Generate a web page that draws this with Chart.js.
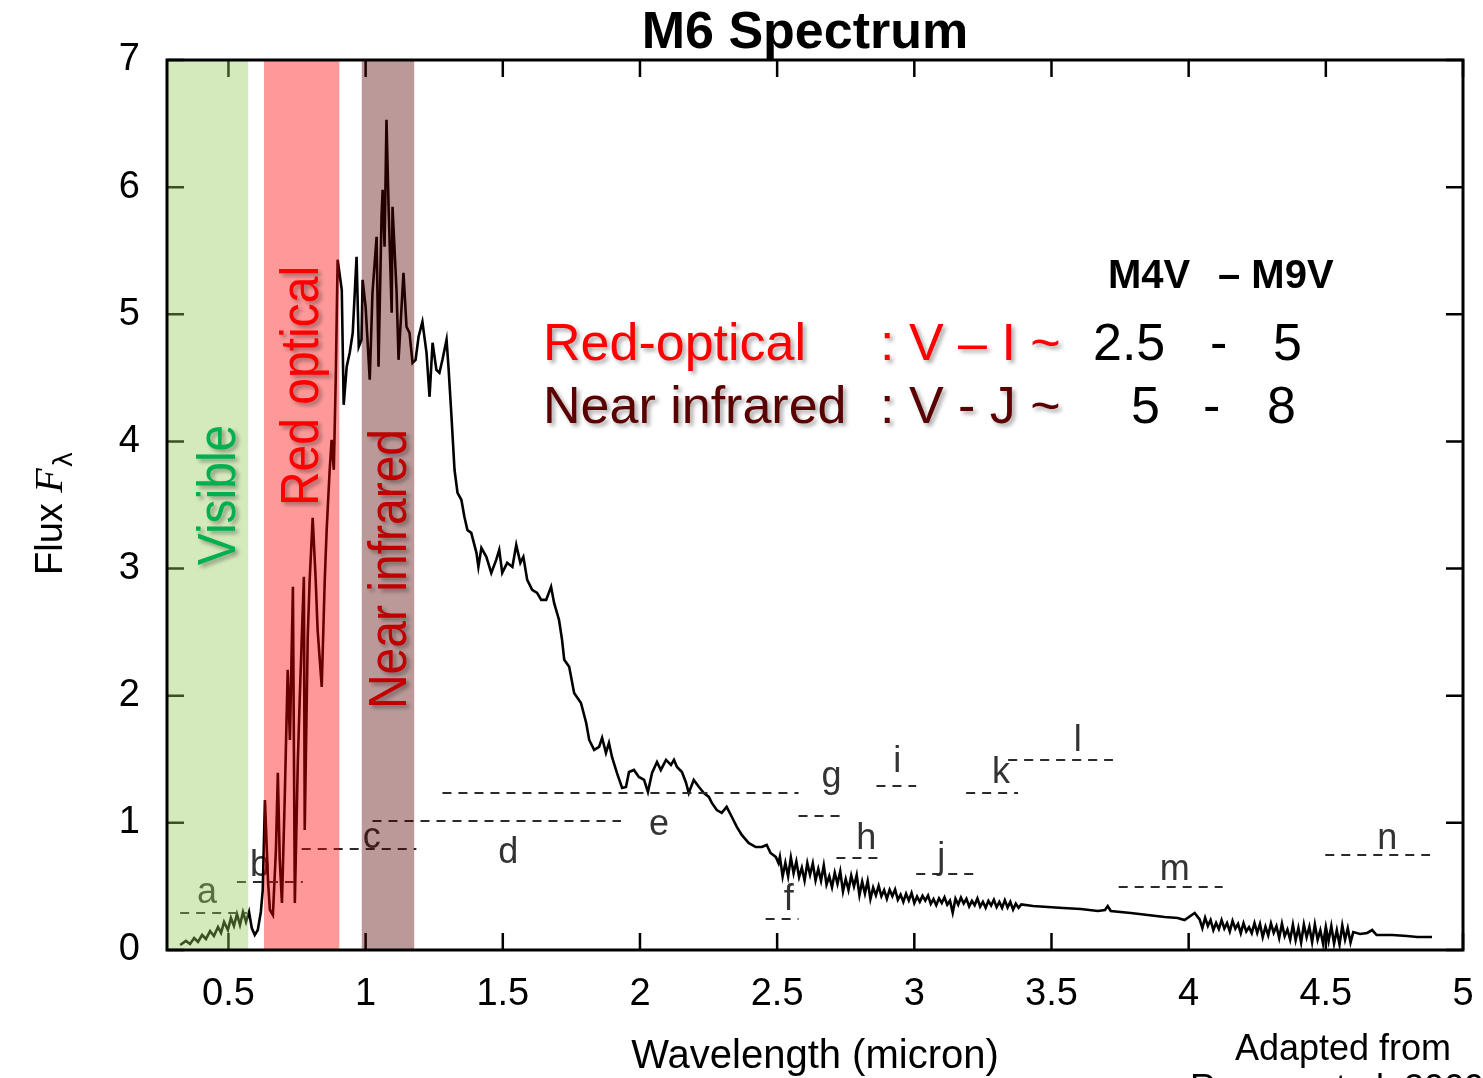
<!DOCTYPE html>
<html lang="en">
<head>
<meta charset="UTF-8">
<title>M6 Spectrum</title>
<style>
  html, body { margin: 0; padding: 0; background: #fff; }
  canvas { display: block; }
</style>
</head>
<body>
<canvas id="spectrumChart" width="1483" height="1078"></canvas>
<script src="https://cdn.jsdelivr.net/npm/chart.js@4.4.1/dist/chart.umd.min.js"></script>
<script>
// axis range and ticks
const xMin = 0.276, xMax = 5.0;
const xTickValues = [0.5, 1, 1.5, 2, 2.5, 3, 3.5, 4, 4.5, 5];
const yTickValues = [0, 1, 2, 3, 4, 5, 6, 7];

// M6 spectrum (micron, flux)
const wavelength = [
  0.324,0.345,0.360,0.375,0.389,0.404,0.418,0.433,0.447,0.462,
  0.473,0.484,0.498,0.509,0.520,0.531,0.542,0.553,0.564,0.575,
  0.585,0.596,0.607,0.618,0.625,0.633,0.644,0.651,0.662,0.673,
  0.680,0.687,0.695,0.705,0.716,0.724,0.735,0.742,0.753,0.760,
  0.767,0.775,0.778,0.789,0.796,0.807,0.818,0.825,0.840,0.851,
  0.858,0.869,0.876,0.884,0.891,0.898,0.913,0.920,0.931,0.942,
  0.953,0.967,0.975,0.985,0.989,1.000,1.015,1.025,1.040,1.047,
  1.058,1.062,1.069,1.076,1.084,1.095,1.098,1.113,1.120,1.131,
  1.138,1.149,1.160,1.171,1.182,1.193,1.207,1.222,1.233,1.244,
  1.258,1.269,1.280,1.295,1.302,1.313,1.324,1.335,1.349,1.360,
  1.371,1.385,1.404,1.411,1.422,1.440,1.458,1.476,1.487,1.498,
  1.516,1.535,1.549,1.564,1.575,1.589,1.607,1.625,1.640,1.658,
  1.676,1.687,1.705,1.716,1.724,1.742,1.760,1.785,1.804,1.815,
  1.833,1.851,1.862,1.876,1.887,1.898,1.916,1.935,1.949,1.960,
  1.978,1.996,2.015,2.029,2.044,2.062,2.076,2.095,2.113,2.124,
  2.135,2.153,2.167,2.178,2.196,2.215,2.233,2.251,2.262,2.280,
  2.298,2.316,2.335,2.353,2.371,2.396,2.422,2.444,2.462,2.476,
  2.495,2.505,
  2.51,2.52,2.53,2.54,2.55,2.56,2.57,2.58,2.59,2.60,
  2.61,2.62,2.63,2.64,2.65,2.66,2.67,2.68,2.69,2.70,
  2.71,2.72,2.73,2.74,2.75,2.76,2.77,2.78,2.79,2.80,
  2.81,2.82,2.83,2.84,2.85,2.86,2.87,2.88,2.89,2.90,
  2.91,2.92,2.93,2.94,2.95,2.96,2.97,2.98,2.99,3.00,
  3.01,3.02,3.03,3.04,3.05,3.06,3.07,3.08,3.09,3.10,
  3.11,3.12,3.13,3.14,3.15,3.16,3.17,3.18,3.19,3.20,
  3.21,3.22,3.23,3.24,3.25,3.26,3.27,3.28,3.29,3.30,
  3.31,3.32,3.33,3.34,3.35,3.36,3.37,3.38,3.39,
  3.433,3.487,3.542,3.607,3.669,3.695,3.705,3.716,3.789,3.851,
  3.913,3.960,3.985,4.022,
  4.04,4.05,4.06,4.07,4.08,4.09,4.10,4.11,4.12,4.13,
  4.14,4.15,4.16,4.17,4.18,4.19,4.20,4.21,4.22,4.23,
  4.24,4.25,4.26,4.27,4.28,4.29,4.30,4.31,4.32,4.33,
  4.34,4.35,4.36,4.37,4.38,4.39,4.40,4.41,4.42,4.43,
  4.44,4.45,4.46,4.47,4.48,4.49,4.50,4.51,4.52,4.53,
  4.54,4.55,4.56,4.57,4.58,4.59,4.60,
  4.625,4.651,4.669,4.685,4.742,4.796,4.833,4.887
];
const flux = [
  0.039,0.071,0.047,0.094,0.063,0.118,0.087,0.149,0.110,0.181,
  0.134,0.220,0.157,0.252,0.189,0.283,0.197,0.299,0.220,0.299,
  0.173,0.118,0.157,0.299,0.472,1.180,0.551,0.315,0.275,0.787,
  1.393,0.708,0.370,1.180,2.203,1.652,2.856,0.370,1.495,1.991,
  2.439,2.935,0.944,2.463,2.911,3.399,2.911,2.518,2.069,2.911,
  3.304,3.777,4.013,3.777,4.485,5.429,5.193,4.288,4.587,4.697,
  4.854,5.452,4.744,4.799,5.271,5.059,4.485,5.169,5.610,4.587,
  5.767,5.980,5.531,6.530,5.822,5.012,5.846,5.169,4.642,5.059,
  5.327,4.902,4.854,4.618,4.642,4.823,4.941,4.697,4.351,4.776,
  4.563,4.540,4.642,4.799,4.587,4.194,3.777,3.596,3.541,3.407,
  3.304,3.281,3.124,3.013,3.163,3.092,2.966,3.068,3.147,2.966,
  3.045,3.013,3.186,3.045,3.092,2.911,2.832,2.809,2.754,2.754,
  2.856,2.730,2.596,2.439,2.282,2.227,2.022,1.943,1.786,1.652,
  1.574,1.597,1.668,1.550,1.629,1.518,1.393,1.275,1.282,1.400,
  1.416,1.361,1.338,1.243,1.393,1.479,1.416,1.495,1.456,1.495,
  1.440,1.400,1.322,1.235,1.338,1.282,1.235,1.204,1.157,1.101,
  1.078,1.125,1.046,0.968,0.905,0.842,0.810,0.810,0.826,0.763,
  0.732,0.684,
  0.733,0.578,0.686,0.579,0.727,0.604,0.696,0.573,0.647,0.546,
  0.684,0.591,0.681,0.548,0.638,0.544,0.665,0.515,0.580,0.494,
  0.607,0.521,0.619,0.461,0.558,0.472,0.586,0.500,0.589,0.431,
  0.537,0.444,0.542,0.401,0.491,0.430,0.505,0.423,0.471,0.403,
  0.474,0.424,0.476,0.395,0.436,0.379,0.443,0.390,0.449,0.370,
  0.420,0.379,0.426,0.389,0.429,0.363,0.400,0.352,0.406,0.370,
  0.415,0.357,0.388,0.293,0.403,0.357,0.412,0.366,0.403,0.342,
  0.386,0.353,0.405,0.341,0.379,0.332,0.386,0.350,0.395,0.337,
  0.378,0.331,0.392,0.335,0.379,0.318,0.365,0.332,0.359,
  0.346,0.338,0.330,0.323,0.307,0.315,0.346,0.307,0.291,0.275,
  0.260,0.252,0.236,0.291,
  0.241,0.172,0.254,0.189,0.236,0.157,0.213,0.165,0.235,0.169,
  0.212,0.146,0.229,0.168,0.206,0.132,0.211,0.146,0.180,0.133,
  0.212,0.135,0.205,0.101,0.183,0.115,0.209,0.135,0.187,0.095,
  0.207,0.109,0.161,0.081,0.199,0.077,0.173,0.059,0.201,0.101,
  0.183,0.062,0.202,0.081,0.155,0.048,0.182,0.069,0.188,0.051,
  0.156,0.043,0.193,0.081,0.171,0.058,0.141,
  0.126,0.134,0.157,0.118,0.118,0.110,0.102,0.102
];

// shaded wavelength bands
const bandNames = ['Visible', 'Red optical', 'Near infrared'];
const bandStart = [0.276, 0.629, 0.985];
const bandEnd = [0.573, 0.905, 1.178];

// photometric filter marks a..n
const filterNames = ['a','b','c','d','e','f','g','h','i','j','k','l','m','n'];
const filterStart = [0.324, 0.531, 0.767, 1.025, 1.280, 2.458, 2.578, 2.716, 2.862, 3.007, 3.189, 3.342, 3.745, 4.498];
const filterEnd   = [0.567, 0.771, 1.185, 1.931, 2.578, 2.578, 2.735, 2.887, 3.007, 3.218, 3.378, 3.724, 4.124, 4.880];
const filterLevel = [0.291, 0.535, 0.795, 1.015, 1.235, 0.244, 1.054, 0.724, 1.290, 0.598, 1.235, 1.495, 0.496, 0.747];
const labelX = [0.422, 0.615, 1.022, 1.520, 2.069, 2.542, 2.698, 2.825, 2.938, 3.098, 3.316, 3.596, 3.949, 4.724];
const labelY = [0.45, 0.66, 0.88, 0.76, 0.98, 0.39, 1.36, 0.87, 1.48, 0.72, 1.39, 1.64, 0.63, 0.87];

const FONT = '"Liberation Sans", Arial, Helvetica, sans-serif';
const bandFill = ['rgba(150,202,87,0.4)', 'rgba(255,0,0,0.4)', 'rgba(88,0,0,0.4)'];

function withShadow(ctx) {
    ctx.shadowColor = 'rgba(0,0,0,0.35)';
    ctx.shadowOffsetX = 3;
    ctx.shadowOffsetY = 3;
    ctx.shadowBlur = 4;
}

const datasets = [];

// bands go on top so the line shows through darkened
bandNames.forEach((name, i) => {
    datasets.push({
        label: name,
        data: [{ x: bandStart[i], y: 7 }, { x: bandEnd[i], y: 7 }],
        borderWidth: 0,
        pointRadius: 0,
        fill: 'origin',
        backgroundColor: bandFill[i],
        order: 0
    });
});

filterNames.forEach((name, i) => {
    datasets.push({
        label: 'filter ' + name,
        data: [{ x: filterStart[i], y: filterLevel[i] }, { x: filterEnd[i], y: filterLevel[i] }],
        borderColor: '#2a2a2a',
        borderWidth: 2,
        borderDash: [9, 7],
        pointRadius: 0,
        fill: false,
        order: 2
    });
});

datasets.push({
    label: 'M6',
    data: wavelength.map((w, i) => ({ x: w, y: flux[i] })),
    borderColor: '#000',
    borderWidth: 2.6,
    pointRadius: 0,
    tension: 0,
    fill: false,
    order: 3
});

const decorations = {
    id: 'decorations',
    beforeDatasetsDraw(chart) {
        const { ctx, chartArea: a, scales: { x, y } } = chart;
        ctx.save();
        // inward tick marks on all four sides
        ctx.strokeStyle = '#000';
        ctx.lineWidth = 2.5;
        ctx.beginPath();
        xTickValues.forEach(v => {
            const px = x.getPixelForValue(v);
            ctx.moveTo(px, a.bottom); ctx.lineTo(px, a.bottom - 17);
            ctx.moveTo(px, a.top); ctx.lineTo(px, a.top + 17);
        });
        yTickValues.forEach(v => {
            const py = y.getPixelForValue(v);
            ctx.moveTo(a.left, py); ctx.lineTo(a.left + 17, py);
            ctx.moveTo(a.right, py); ctx.lineTo(a.right - 17, py);
        });
        ctx.stroke();

        // filter letters
        ctx.fillStyle = '#333';
        ctx.font = '36px ' + FONT;
        ctx.textAlign = 'center';
        ctx.textBaseline = 'middle';
        filterNames.forEach((t, i) => {
            ctx.fillText(t, x.getPixelForValue(labelX[i]), y.getPixelForValue(labelY[i]));
        });
        ctx.restore();
    },
    afterDatasetsDraw(chart) {
        const { ctx, chartArea: a } = chart;
        ctx.save();
        ctx.strokeStyle = '#000';
        ctx.lineWidth = 3;
        ctx.strokeRect(a.left, a.top, a.width, a.height);

        // vertical band labels
        const vert = [
            { t: 'Visible', x: 218, y: 495, c: '#00b050' },
            { t: 'Red optical', x: 301, y: 386, c: '#ff0000' },
            { t: 'Near infrared', x: 389, y: 569, c: '#c00000' }
        ];
        vert.forEach(v => {
            ctx.save();
            ctx.translate(v.x, v.y);
            ctx.rotate(-Math.PI / 2);
            ctx.scale(1, 1.12);
            withShadow(ctx);
            ctx.font = '48px ' + FONT;
            ctx.fillStyle = v.c;
            ctx.textAlign = 'center';
            ctx.textBaseline = 'middle';
            ctx.fillText(v.t, 0, 2);
            ctx.restore();
        });

        // colour index annotation
        ctx.save();
        ctx.textAlign = 'left';
        ctx.textBaseline = 'alphabetic';
        ctx.fillStyle = '#000';
        ctx.font = 'bold 40px ' + FONT;
        ctx.fillText('M4V', 1108, 288);
        ctx.fillText('\u2013 M9V', 1218, 288);

        withShadow(ctx);
        ctx.font = '52px ' + FONT;
        ctx.fillStyle = '#ff0000';
        ctx.fillText('Red-optical', 543, 360);
        ctx.fillText(': V \u2013 I ~', 880, 360);
        ctx.fillStyle = '#5a0000';
        ctx.fillText('Near infrared', 543, 423);
        ctx.fillText(': V - J ~', 880, 423);
        ctx.shadowColor = 'rgba(0,0,0,0)';
        ctx.fillStyle = '#000';
        ctx.fillText('2.5', 1093, 360);
        ctx.fillText('-', 1210, 360);
        ctx.fillText('5', 1273, 360);
        ctx.fillText('5', 1131, 423);
        ctx.fillText('-', 1203, 423);
        ctx.fillText('8', 1267, 423);
        ctx.restore();

        // title, axis titles, credit
        ctx.save();
        ctx.fillStyle = '#000';
        ctx.textAlign = 'center';
        ctx.textBaseline = 'alphabetic';
        ctx.font = 'bold 52px ' + FONT;
        ctx.fillText('M6 Spectrum', 805, 48);
        ctx.font = '40px ' + FONT;
        ctx.fillText('Wavelength (micron)', 815, 1068);
        ctx.font = '36px ' + FONT;
        ctx.fillText('Adapted from', 1343, 1060);
        ctx.textAlign = 'left';
        ctx.fillText('Rayner et al. 2009', 1190, 1100);

        ctx.translate(62, 575);
        ctx.rotate(-Math.PI / 2);
        ctx.textAlign = 'left';
        ctx.font = '38px ' + FONT;
        ctx.fillText('Flux ', 0, 0);
        let w = ctx.measureText('Flux ').width;
        ctx.font = 'italic 40px "Liberation Serif", "DejaVu Serif", serif';
        ctx.fillText('F', w, 0);
        w += ctx.measureText('F').width;
        ctx.font = '26px "DejaVu Sans", sans-serif';
        ctx.fillText('\u03bb', w + 1, 10);
        ctx.restore();
        ctx.restore();
    }
};

const ctx = document.getElementById('spectrumChart').getContext('2d');
const chart = new Chart(ctx, {
    type: 'line',
    data: { datasets: datasets },
    options: {
        responsive: false,
        animation: false,
        events: [],
        layout: { padding: { top: 60, right: 20, left: 0, bottom: 0 } },
        plugins: {
            legend: { display: false },
            tooltip: { enabled: false },
            title: { display: false }
        },
        scales: {
            x: {
                type: 'linear',
                min: xMin,
                max: xMax,
                grid: { display: false, drawTicks: false },
                border: { display: false },
                afterBuildTicks: s => { s.ticks = xTickValues.map(v => ({ value: v })); },
                afterFit: s => { s.height = 128; s.paddingLeft = 0; s.paddingRight = 0; },
                ticks: {
                    autoSkip: false,
                    maxRotation: 0,
                    padding: 22,
                    color: '#000',
                    font: { size: 38, family: FONT },
                    callback: v => String(v)
                }
            },
            y: {
                min: 0,
                max: 7,
                grid: { display: false, drawTicks: false },
                border: { display: false },
                afterBuildTicks: s => { s.ticks = yTickValues.map(v => ({ value: v })); },
                afterFit: s => { s.width = 167; s.paddingTop = 0; s.paddingBottom = 0; },
                ticks: {
                    padding: 27,
                    color: '#000',
                    font: { size: 38, family: FONT },
                    callback: v => String(v)
                }
            }
        }
    },
    plugins: [decorations]
});
</script>
</body>
</html>
